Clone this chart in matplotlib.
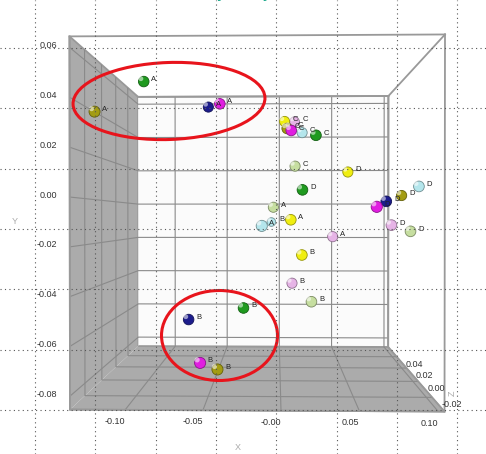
import numpy as np
import matplotlib
matplotlib.use('Agg')
import matplotlib.pyplot as plt
from matplotlib.colors import to_rgb
from matplotlib.markers import MarkerStyle
from matplotlib.patches import Ellipse
from matplotlib.path import Path
from mpl_toolkits.mplot3d import proj3d

# point data (x, y, z) with class letter and colour series
point_series = ['green'] * 4 + ['olive'] * 4 + ['navy'] * 4 + ['magenta'] * 4 + \
               ['yellow'] * 4 + ['plum'] * 4 + ['cyan'] * 4 + ['lightgreen'] * 4
point_class = ['A', 'B', 'C', 'D'] * 8
point_x = [-0.0990, -0.0267, 0.0256, 0.0159,
           -0.1287, -0.0436, 0.0049, 0.0914,
           -0.0544, -0.0665, 0.0082, 0.0762,
           -0.0438, -0.0556, 0.0078, 0.0660,
           0.0075, 0.0155, 0.0033, 0.0510,
           0.0396, 0.0089, 0.0114, 0.0799,
           -0.0130, -0.0073, 0.0165, 0.0996,
           -0.0052, 0.0224, 0.0112, 0.0936]
point_y = [0.0534, -0.0491, 0.0289, 0.0043,
           0.0376, -0.0738, 0.0320, 0.0022,
           0.0441, -0.0544, 0.0364, -0.0009,
           0.0432, -0.0710, 0.0311, -0.0036,
           -0.0092, -0.0251, 0.0372, 0.0133,
           -0.0172, -0.0392, 0.0391, -0.0116,
           -0.0118, -0.0106, 0.0319, 0.0058,
           -0.0033, -0.0462, 0.0161, -0.0144]
point_z = [-0.01, -0.01, -0.01, -0.01,
           -0.02, -0.02, -0.01, 0.00,
           0.00, -0.01, 0.01, -0.01,
           -0.01, -0.02, -0.01, -0.02,
           -0.01, -0.01, 0.00, 0.00,
           0.00, 0.00, 0.01, -0.01,
           -0.02, 0.04, 0.00, -0.01,
           0.00, -0.01, 0.00, -0.01]

series_colors = {'green': '#1f9a1f', 'olive': '#a39c12', 'navy': '#1c1c8c',
                 'magenta': '#e01ee0', 'yellow': '#f0ee10', 'plum': '#e6b4e6',
                 'cyan': '#b4e6ec', 'lightgreen': '#c6dea0'}

x_lim = (-0.1356, 0.104)
y_lim = (-0.0854, 0.0644)
z_lim = (-0.035, 0.06)
x_ticks = [-0.10, -0.05, 0.0, 0.05, 0.10]
x_ticklabels = ['-0.10', '-0.05', '-0.00', '0.05', '0.10']
y_ticks = [-0.08, -0.06, -0.04, -0.02, 0.0, 0.02, 0.04, 0.06]
y_ticklabels = ['-0.08', '-0.06', '-0.04', '-0.02', '0.00', '0.02', '0.04', '0.06']
z_ticks = [-0.02, 0.0, 0.02, 0.04]
z_ticklabels = ['-0.02', '0.00', '0.02', '0.04']

plt.rcParams['font.family'] = ['Liberation Sans', 'DejaVu Sans']

W, H = 486, 454
fig = plt.figure(figsize=(W / 100, H / 100), dpi=100)
ax = fig.add_axes([0, 0, 1, 1], projection='3d')
ax.computed_zorder = False
ax.view_init(elev=0.3, azim=1.2, vertical_axis='y')
ax.set_box_aspect((1, 1, 1))
ax.set_proj_type('persp', focal_length=0.275)
ax.set_xlim(*x_lim)
ax.set_ylim(*y_lim)
ax.set_zlim(z_lim[1], z_lim[0])  # z grows into the screen

# ticks only for the pane grid, labels are placed by hand below
ax.set_xticks(x_ticks)
ax.set_yticks(y_ticks)
ax.set_zticks(z_ticks)
ax.tick_params(labelcolor=(0, 0, 0, 0))

ax.xaxis.set_pane_color('#ababab')
ax.yaxis.set_pane_color('#ababab')
ax.zaxis.set_pane_color('#fbfbfb')
for axis in (ax.xaxis, ax.yaxis, ax.zaxis):
    axis.pane.set_edgecolor('#999999')
    axis.pane.set_linewidth(1.3)
    axis.line.set_color('#999999')
    axis._axinfo['grid'].update(color='#8a8a8a', linewidth=0.8)
    axis._axinfo['tick'].update(inward_factor=0, outward_factor=0)

# remaining box edges
xl, xr = x_lim
yb, yt = y_lim
zf, zb = z_lim
edge_kw = dict(color='#999999', lw=1.3, zorder=2)
ax.plot([xl, xr], [yt, yt], [zf, zf], **edge_kw)
ax.plot([xr, xr], [yb, yt], [zf, zf], **edge_kw)
ax.plot([xr, xr], [yt, yt], [zf, zb], **edge_kw)
ax.plot([xl, xr], [yt, yt], [zb, zb], **edge_kw)
ax.plot([xr, xr], [yb, yt], [zb, zb], **edge_kw)
ax.plot([xl, xl], [yb, yt], [zf, zf], **edge_kw)
ax.plot([xl, xr], [yb, yb], [zf, zf], **edge_kw)

# perspective shrink of each sphere (relative to the front face)
M = ax.get_proj()
px0 = np.array(point_x)
py0 = np.array(point_y)
pz0 = np.array(point_z)
a0, b0, _ = proj3d.proj_transform(px0, py0, pz0, M)
a1, b1, _ = proj3d.proj_transform(px0 + 0.01, py0, pz0, M)
r0, q0, _ = proj3d.proj_transform(np.array([0.0, 0.01]), np.array([0.0, 0.0]),
                                  np.array([zf, zf]), M)
depth_scale = np.hypot(a1 - a0, b1 - b0) / abs(r0[1] - r0[0])
sizes = 75 * depth_scale ** 2

# spheres: coloured ball with a darker rim and a glossy spot
colors = [series_colors[s] for s in point_series]
rims = [tuple(0.62 * np.array(to_rgb(c))) for c in colors]
ax.scatter(point_x, point_y, point_z, c=colors, s=sizes, depthshade=False,
           edgecolors=rims, linewidths=0.6, zorder=3)
gloss = MarkerStyle(Path.circle((-0.35, 0.35), 0.3))
ax.scatter(point_x, point_y, point_z, c='white', s=sizes, marker=gloss,
           depthshade=False, alpha=0.55, linewidths=0, zorder=4)

# fit front face of the box to the picture
fig.canvas.draw()
M = ax.get_proj()
fx, fy, _ = proj3d.proj_transform(np.array([xl, xr]), np.array([yb, yt]),
                                  np.array([zf, zf]), M)
pix = ax.transData.transform(np.column_stack([fx, fy]))
bb = ax.get_position()
L, B, Wd, Ht = bb.x0 * W, bb.y0 * H, bb.width * W, bb.height * H
s = (445 - 70) / (pix[1, 0] - pix[0, 0])
mx, my = pix[:, 0].mean(), pix[:, 1].mean()
L2 = 257.5 - (mx - L) * s
B2 = (H - 222) - (my - B) * s
ax.set_position([L2 / W, B2 / H, Wd * s / W, Ht * s / H])
fig.canvas.draw()


def to_img(xs, ys, zs):
    a, b, _ = proj3d.proj_transform(np.asarray(xs, float), np.asarray(ys, float),
                                    np.asarray(zs, float), M)
    p = ax.transData.transform(np.column_stack([a, b]))
    return p[:, 0], H - p[:, 1]


# class letters next to each sphere
for lab, a, b in zip(point_class, a0, b0):
    ax.annotate(lab, (a, b), xytext=(5.5, 1.5), textcoords='offset points',
                fontsize=5.5, color='#222222', va='center', ha='left', zorder=5)

# overlay: dotted grid, tick labels, highlight ellipses, axis letters
ov = fig.add_axes([0, 0, 1, 1], zorder=5)
ov.set_xlim(0, W)
ov.set_ylim(H, 0)
ov.patch.set_alpha(0)
ov.set_xticks(np.arange(35, W, 60.3))
ov.set_yticks(np.arange(48, H, 60.3))
ov.grid(True, linestyle=(0, (1, 3)), color='#555555', lw=0.8)
ov.tick_params(length=0, labelbottom=False, labelleft=False)
for sp in ov.spines.values():
    sp.set_visible(False)

tick_kw = dict(fontsize=6.5, color='#333333', va='center')
n = len(y_ticks)
tx, ty = to_img([xl] * n, y_ticks, [zf] * n)
for lab, a, b in zip(y_ticklabels, tx, ty):
    ov.text(a - 12.5, b - 2, lab, ha='right', **tick_kw)
n = len(x_ticks)
tx, ty = to_img(x_ticks, [yb] * n, [zf] * n)
for lab, a, b in zip(x_ticklabels, tx, ty):
    ov.text(a, b + 11.5, lab, ha='right', **tick_kw)
n = len(z_ticks)
tx, ty = to_img([xr] * n, [yb] * n, z_ticks)
for lab, a, b in zip(z_ticklabels, tx, ty):
    ov.text(a + 9, b + 7.5, lab, ha='left', **tick_kw)

ov.add_patch(Ellipse((169, 101), 192, 77, angle=-2, fill=False,
                     edgecolor='#e8141c', lw=2.2))
ov.add_patch(Ellipse((219.5, 335.5), 116, 90, fill=False,
                     edgecolor='#e8141c', lw=2.2))
ov.text(15, 222, 'Y', fontsize=6.5, color='#aaaaaa', ha='center', va='center')
ov.text(238, 448, 'X', fontsize=6.5, color='#aaaaaa', ha='center', va='center')
ov.text(452, 393, 'Z', fontsize=6.5, color='#aaaaaa', ha='center', va='center',
        rotation=90)
fig.text(0.472, 1 + 1.5 / H, 'Sensory Analysis', fontsize=12, color='#18a88a',
         style='italic', ha='center', va='baseline')

fig.savefig('out.png', dpi=100)
